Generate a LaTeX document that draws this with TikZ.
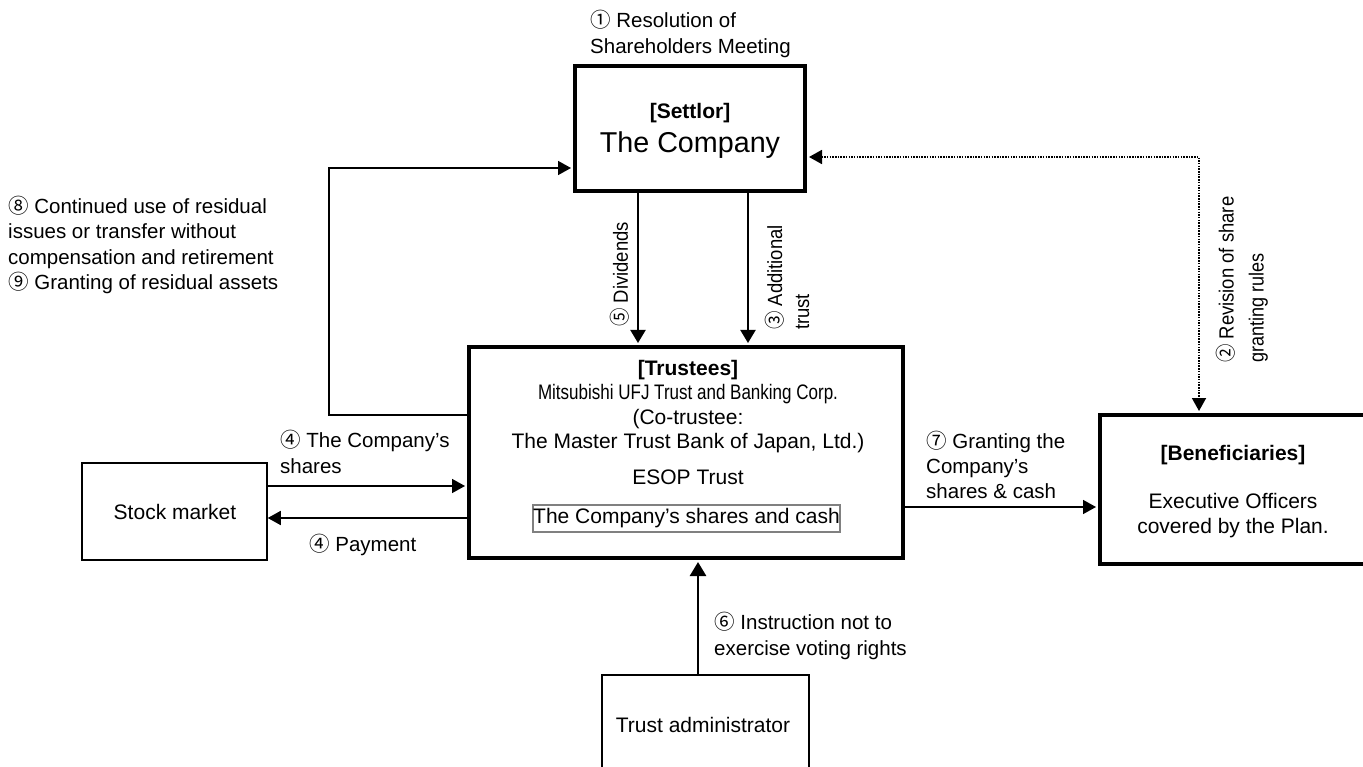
\documentclass[tikz,border=0pt]{standalone}
\usepackage{fontspec}
\usepackage{graphicx}
\setmainfont{Liberation Sans}
\newfontfamily\cjkfont{Noto Sans CJK JP}
\usetikzlibrary{arrows.meta,calc}
\newcommand\cn[1]{{\cjkfont #1}}
\newcommand\fsz[2]{\fontsize{#1}{#2}\selectfont}
\newcommand\cond[2]{\scalebox{#1}[1]{#2}}
\tikzset{
  thickbox/.style={draw, line width=4pt, inner sep=0pt},
  thinbox/.style={draw, line width=1.5pt, inner sep=0pt},
  lbl/.style={inner sep=0pt, align=left, font=\fsz{20.5}{25.3}},
  conn/.style={line width=1.6pt, -{Triangle[length=13pt,width=14pt]}},
  vconn/.style={line width=2pt, -{Triangle[length=13pt,width=15pt]}},
}
\begin{document}
\begin{tikzpicture}[x=1pt,y=-1pt]
\useasboundingbox (0,0) rectangle (1363,767);
\clip (0,0) rectangle (1363,767);
% boxes
\node[thickbox, minimum width=230pt, minimum height=125pt] (S) at (690,128.5) {};
\node[thickbox, minimum width=434pt, minimum height=211pt] (T) at (686,452.5) {};
\node[thinbox, minimum width=185pt, minimum height=97pt] (M) at (174.5,511.5) {};
\node[thickbox, minimum width=280pt, minimum height=149pt] (B) at (1240,489.5) {};
\node[draw, line width=2pt, inner sep=0pt, minimum width=207pt, minimum height=120pt] (A) at (705.5,735) {};
% box texts
\node[inner sep=0pt, font=\fsz{21}{25}\bfseries] (stitle) at (690,113) {[Settlor]};
\node[inner sep=0pt, font=\fsz{28.7}{32}] (stext) at (690,145) {The Company};
\node[inner sep=0pt, align=center, font=\fsz{21}{24.4}] (ttext) at (688,406.5)
  {{\bfseries [Trustees]}\\\cond{0.81}{Mitsubishi UFJ Trust and Banking Corp.}\\(Co-trustee:\\The Master Trust Bank of Japan, Ltd.)};
\node[inner sep=0pt, font=\fsz{21}{25}] (esop) at (688,477) {ESOP Trust};
\node[draw=gray, line width=1.5pt, minimum width=307pt, minimum height=27pt, inner sep=0pt, font=\fsz{21}{25}] (inner) at (686.5,518.5) {The Company’s shares and cash};
\node[inner sep=0pt, font=\fsz{21}{25}] (mtext) at (175,512) {Stock market};
\node[inner sep=0pt, font=\fsz{21}{25}\bfseries] (btitle) at (1233,455) {[Beneficiaries]};
\node[inner sep=0pt, align=center, font=\fsz{21}{25}] (btext) at (1233,515.5) {Executive Officers\\covered by the Plan.};
\node[inner sep=0pt, font=\fsz{21}{25}] (atext) at (703,725) {Trust administrator};
% free labels
\node[lbl, anchor=west] (l1) at (590,34) {\cn{①} Resolution of\\Shareholders Meeting};
\node[lbl, anchor=west] (l8) at (8,245) {\cn{⑧} Continued use of residual\\issues or transfer without\\compensation and retirement\\\cn{⑨} Granting of residual assets};
\node[lbl, anchor=west] (l4a) at (280,452) {\cn{④} The Company’s\\shares};
\node[lbl, anchor=west] (l4b) at (309,545) {\cn{④} Payment};
\node[lbl, anchor=west] (l7) at (926,465) {\cn{⑦} Granting the\\Company’s\\shares \& cash};
\node[lbl, anchor=west] (l6) at (714,636) {\cn{⑥} Instruction not to\\exercise voting rights};
\node[lbl, rotate=90, anchor=west, font=\fsz{20.5}{27}] (l5) at (620,327) {\cond{0.9}{\cn{⑤} Dividends}};
\node[lbl, rotate=90, anchor=west, font=\fsz{20.5}{27}] (l3) at (787,330) {\cond{0.9}{\cn{③} Additional}\\\cond{0.9}{trust}};
\node[lbl, rotate=90, anchor=west, font=\fsz{20.5}{30}] (l2) at (1242,363) {\cond{0.9}{\cn{②} Revision of share}\\\cond{0.88}{granting rules}};
% connector coordinates
\coordinate (dx) at (638,0);
\coordinate (ax) at (748,0);
\coordinate (fb1) at (329,415);
\coordinate (fb2) at (329,168);
\coordinate (sh) at (0,486);
\coordinate (pay) at (0,518);
\coordinate (gr) at (0,507);
\coordinate (adm) at (698,0);
\coordinate (dt1) at (1199,157);
% connectors
\draw[vconn, shorten >=2pt] (dx |- S.south) -- (dx |- T.north);
\draw[vconn, shorten >=2pt] (ax |- S.south) -- (ax |- T.north);
\draw[conn, shorten >=2pt] (fb1 -| T.west) -- (fb1) -- (fb2) -- (fb2 -| S.west);
\draw[conn, shorten >=2pt] (sh -| M.east) -- (sh -| T.west);
\draw[conn] (pay -| T.west) -- (pay -| M.east);
\draw[conn, shorten >=2pt] (gr -| T.east) -- (gr -| B.west);
\draw[line width=2.6pt, -{Triangle[length=14pt,width=16pt]}, shorten >=2pt] (adm |- A.north) -- (adm |- T.south);
\draw[line width=1.8pt, dash pattern=on 1.5pt off 1.2pt, {Triangle[length=13pt,width=14pt]}-{Triangle[length=13pt,width=14pt]}, shorten <=2pt, shorten >=2pt]
  (dt1 -| S.east) -- (dt1) -- (dt1 |- B.north);
\end{tikzpicture}
\end{document}
